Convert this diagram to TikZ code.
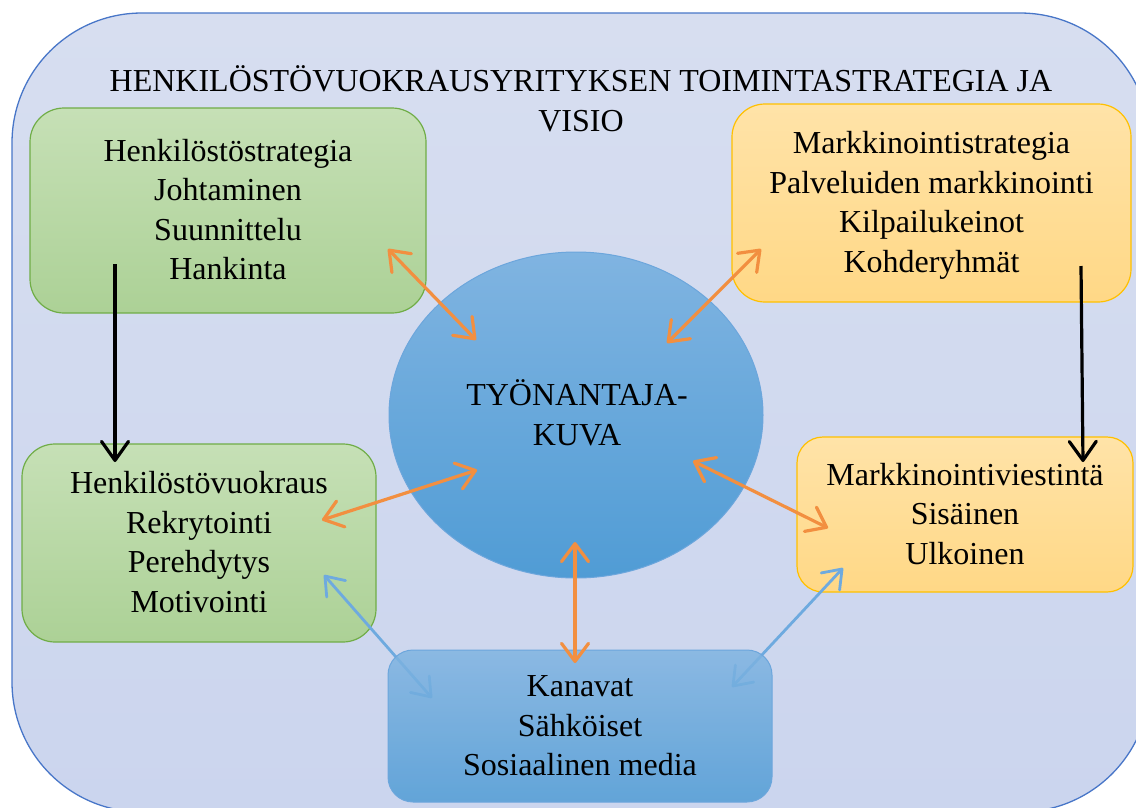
\documentclass[tikz,border=0pt]{standalone}
\usepackage{fontspec}
\setmainfont{Liberation Serif}
\usetikzlibrary{arrows.meta,shapes.geometric}

\definecolor{bgtop}{RGB}{215,222,240}
\definecolor{bgbot}{RGB}{203,213,238}
\definecolor{bgline}{RGB}{72,118,200}
\definecolor{greentop}{RGB}{198,224,182}
\definecolor{greenbot}{RGB}{172,209,150}
\definecolor{greenline}{RGB}{112,173,71}
\definecolor{orangetop}{RGB}{255,227,168}
\definecolor{orangebot}{RGB}{255,216,134}
\definecolor{orangeline}{RGB}{255,192,0}
\definecolor{bluetop}{RGB}{128,180,225}
\definecolor{bluebot}{RGB}{80,156,213}
\definecolor{blueline}{RGB}{108,166,220}
\definecolor{arrorange}{RGB}{242,143,64}
\definecolor{arrblue}{RGB}{110,170,223}

% fixed line box so every text block is centred the same way
\newcommand{\lstrut}{\rule[-9pt]{0pt}{38pt}}

\begin{document}
\begin{tikzpicture}[x=1pt,y=-1pt,
  every node/.style={font=\fontsize{32}{39.5}\selectfont, align=center,
    inner sep=0pt, outer sep=0pt, text=black},
  greenbox/.style={rectangle, draw=greenline, line width=1.2pt,
    top color=greentop, bottom color=greenbot},
  orangebox/.style={rectangle, draw=orangeline, line width=1.2pt,
    top color=orangetop, bottom color=orangebot},
  bluebox/.style={draw=blueline, line width=1pt,
    top color=bluetop, bottom color=bluebot},
  orangearrow/.style={draw=arrorange, line width=3.2pt,
    >={Straight Barb[length=18pt,width=27pt,round]}, <->},
  bluearrow/.style={draw=arrblue, line width=2.8pt,
    >={Straight Barb[length=17pt,width=25pt,round]}, <->},
  blackarrow/.style={draw=black, line width=3.2pt,
    >={Straight Barb[length=19pt,width=27pt,round]}, ->},
]
\useasboundingbox (0,0) rectangle (1136,807);
\clip (0,0) rectangle (1136,807);

% outer frame
\node[rectangle, rounded corners=130pt, minimum width=1138pt, minimum height=799pt,
  top color=bgtop, bottom color=bgbot, draw=bgline, line width=1.3pt]
  (frame) at (581,412.5) {};

\node (title) at (581,101.5)
  {\lstrut HENKILÖSTÖVUOKRAUSYRITYKSEN TOIMINTASTRATEGIA JA\\ \lstrut VISIO};

% central ellipse
\node[ellipse, bluebox, minimum width=374pt, minimum height=326pt] (kuva) at (576,415) {};
\node (kuvatext) at (577,415.5) {\lstrut TYÖNANTAJA-\\ \lstrut KUVA};

% side boxes
\node[greenbox, rounded corners=34pt, minimum width=396pt, minimum height=205pt]
  (hstrat) at (228,210.5)
  {\lstrut Henkilöstöstrategia\\ \lstrut Johtaminen\\ \lstrut Suunnittelu\\ \lstrut Hankinta};
\node[greenbox, rounded corners=33pt, minimum width=354pt, minimum height=198pt]
  (hvuokr) at (199,543)
  {\lstrut Henkilöstövuokraus\\ \lstrut Rekrytointi\\ \lstrut Perehdytys\\ \lstrut Motivointi};
\node[orangebox, rounded corners=33pt, minimum width=399pt, minimum height=198pt]
  (mstrat) at (931.5,203)
  {\lstrut Markkinointistrategia\\ \lstrut Palveluiden markkinointi\\ \lstrut Kilpailukeinot\\ \lstrut Kohderyhmät};
\node[orangebox, rounded corners=26pt, minimum width=336pt, minimum height=155pt]
  (mviest) at (965,514.5)
  {\lstrut Markkinointiviestintä\\ \lstrut Sisäinen\\ \lstrut Ulkoinen};

% arrow end points
\coordinate (a1) at (388,249);  \coordinate (b1) at (476,340);
\coordinate (a2) at (761,249);  \coordinate (b2) at (667,343);
\coordinate (a3) at (322,520);  \coordinate (b3) at (477,470);
\coordinate (a4) at (693,461);  \coordinate (b4) at (828,528);
\coordinate (a5) at (575,542);  \coordinate (b5) at (575,663);
\coordinate (a6) at (324,575);  \coordinate (b6) at (432,698);
\coordinate (a7) at (843,568);  \coordinate (b7) at (732,687);
\coordinate (a8) at (115,264);  \coordinate (b8) at (115,462);
\coordinate (a9) at (1081,266); \coordinate (b9) at (1083,462);

% blue links pass under the channel box
\draw[bluearrow] (a6) -- (b6);
\draw[bluearrow] (a7) -- (b7);

\node[rectangle, bluebox, rounded corners=25pt, minimum width=384pt, minimum height=152pt,
  fill opacity=0.85, text opacity=1]
  (kanavat) at (580,726)
  {\lstrut Kanavat\\ \lstrut Sähköiset\\ \lstrut Sosiaalinen media};

% links to the employer image
\draw[orangearrow] (a1) -- (b1);
\draw[orangearrow] (a2) -- (b2);
\draw[orangearrow] (a3) -- (b3);
\draw[orangearrow] (a4) -- (b4);
\draw[orangearrow] (a5) -- (b5);

% strategy to operations
\draw[blackarrow] (a8) -- (b8);
\draw[blackarrow] (a9) -- (b9);
\end{tikzpicture}
\end{document}
